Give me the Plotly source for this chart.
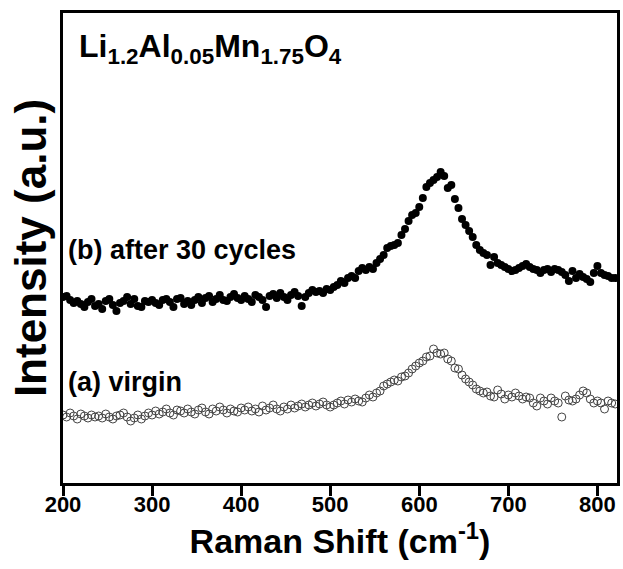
import plotly.graph_objects as go

# Raman shift grid (cm^-1), 4 cm^-1 steps from 200 to 820
raman_shift = list(range(200, 821, 4))

# (b) after 30 cycles (a.u.)
after_30_cycles = [
    186, 187, 183, 180, 182, 179, 176, 181, 184, 177, 179, 174, 182, 184, 178, 172, 180, 182, 186, 179, 184, 177, 176, 182, 181, 183,
    180, 178, 183, 184, 181, 176, 184, 185, 179, 182, 178, 183, 186, 180, 185, 187, 181, 184, 188, 183, 182, 186, 189, 185, 183,
    187, 184, 181, 188, 186, 183, 176, 187, 189, 185, 190, 186, 183, 188, 191, 187, 177, 186, 190, 193, 191, 192, 190, 194, 193,
    196, 198, 202, 200, 205, 207, 205, 212, 215, 213, 216, 214, 220, 224, 228, 235, 237, 238, 240, 248, 254, 262, 268, 270, 276,
    285, 296, 300, 303, 306, 311, 307, 295, 298, 284, 275, 264, 258, 252, 246, 238, 233, 230, 228, 218, 226, 220, 218, 216, 214,
    212, 213, 215, 217, 219, 216, 214, 213, 210, 213, 214, 211, 214, 213, 211, 208, 202, 212, 205, 209, 206, 204, 201, 210, 217,
    210, 208, 207, 205, 205,
]

# (a) virgin (a.u.)
virgin = [
    68, 66, 70, 67, 64, 69, 67, 65, 68, 66, 67, 65, 69, 66, 64, 67, 68, 70, 66, 62, 65, 68, 64, 67, 70, 68,
    72, 69, 71, 74, 70, 68, 73, 72, 70, 74, 71, 69, 73, 75, 71, 69, 74, 72, 76, 73, 70, 74, 72, 71, 75,
    73, 76, 72, 74, 71, 77, 73, 75, 78, 74, 72, 76, 74, 78, 75, 77, 79, 76, 78, 80, 77, 79, 81, 78, 76,
    78, 80, 82, 79, 83, 81, 84, 82, 81, 85, 88, 86, 90, 92, 97, 99, 101, 103, 102, 106, 107, 110, 114, 117, 120,
    122, 126, 127, 134, 130, 129, 130, 124, 122, 115, 114, 108, 104, 101, 98, 94, 92, 90, 91, 87, 86, 93, 89, 84, 88,
    86, 90, 87, 84, 86, 85, 80, 77, 85, 82, 79, 85, 82, 80, 66, 87, 83, 82, 84, 88, 92, 90, 84, 80, 82,
    80, 74, 82, 80, 79,
]

x_ticks = [200, 300, 400, 500, 600, 700, 800]
x_minor_ticks = [250, 350, 450, 550, 650, 750]
x_range = [200, 822]
y_range = [0, 470]
title_text = "Li<sub>1.2</sub>Al<sub>0.05</sub>Mn<sub>1.75</sub>O<sub>4</sub>"
label_b = "(b) after 30 cycles"
label_a = "(a) virgin"

FONT = "Arial, Liberation Sans, sans-serif"
PLOT_H = 569 - 13 - 86  # plot area height in px
UNITS_PER_PX = (y_range[1] - y_range[0]) / PLOT_H

fig = go.Figure()
fig.add_trace(go.Scatter(
    x=raman_shift, y=virgin, mode="markers", name=label_a,
    marker=dict(symbol="circle-open", size=8, color="#444444", line=dict(width=1, color="#444444")),
))
fig.add_trace(go.Scatter(
    x=raman_shift, y=after_30_cycles, mode="markers", name=label_b,
    marker=dict(symbol="circle", size=8, color="black"),
))

# outward tick marks below the bottom axis, drawn as vertical-line markers outside the plot area
fig.add_trace(go.Scatter(
    x=x_ticks, y=[-5.5 * UNITS_PER_PX] * len(x_ticks), mode="markers", cliponaxis=False,
    hoverinfo="skip", showlegend=False,
    marker=dict(symbol="line-ns", size=11, color="black", line=dict(width=3, color="black")),
))
fig.add_trace(go.Scatter(
    x=x_minor_ticks, y=[-3.5 * UNITS_PER_PX] * len(x_minor_ticks), mode="markers", cliponaxis=False,
    hoverinfo="skip", showlegend=False,
    marker=dict(symbol="line-ns", size=7, color="black", line=dict(width=3, color="black")),
))

fig.update_layout(
    width=623, height=569,
    margin=dict(l=63, r=3, t=13, b=86),
    paper_bgcolor="white", plot_bgcolor="white",
    showlegend=False,
    font=dict(family=FONT, color="black"),
)
fig.update_xaxes(
    range=x_range, tickmode="array", tickvals=x_ticks, ticktext=[f"<b>{v}</b>" for v in x_ticks],
    ticks="outside", ticklen=10, tickwidth=3, tickcolor="black",
    showline=True, linewidth=2.5, linecolor="black", mirror=True,
    showgrid=False, zeroline=False,
    tickfont=dict(size=22, family=FONT, color="black"),
    ticklabelstandoff=-10,
    title=dict(text="<b>Raman Shift (cm<sup>-1</sup>)</b>", font=dict(size=34, family=FONT), standoff=12),
)
fig.update_yaxes(
    range=y_range, showticklabels=False, ticks="",
    showline=True, linewidth=2.5, linecolor="black", mirror=True,
    showgrid=False, zeroline=False,
    title=dict(text="<b>Intensity (a.u.)</b>", font=dict(size=44, family=FONT), standoff=0),
)

fig.add_annotation(xref="paper", yref="paper", x=0.025, y=0.925, xanchor="left", yanchor="middle",
                   text=f"<b>{title_text}</b>", showarrow=False, font=dict(size=32, family=FONT))
fig.add_annotation(xref="paper", yref="paper", x=0.005, y=0.496, xanchor="left", yanchor="middle",
                   text=f"<b>{label_b}</b>", showarrow=False, font=dict(size=27, family=FONT))
fig.add_annotation(xref="paper", yref="paper", x=0.005, y=0.215, xanchor="left", yanchor="middle",
                   text=f"<b>{label_a}</b>", showarrow=False, font=dict(size=27, family=FONT))

fig.write_html("out.html")
